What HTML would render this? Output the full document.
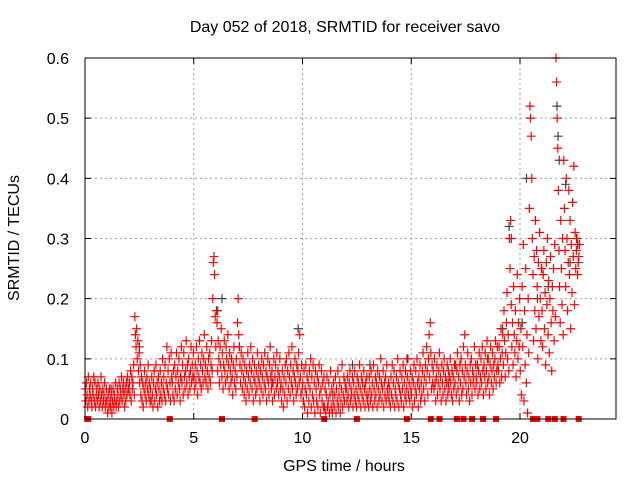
<!DOCTYPE html>
<html><head><meta charset="utf-8"><style>
body{margin:0;background:#fff}
svg text{font-family:"Liberation Sans",sans-serif;font-size:16px;fill:#000}
</style></head><body>
<svg id="chart" width="640" height="480" xmlns="http://www.w3.org/2000/svg">
<rect width="640" height="480" fill="#fff"/>
<text x="345" y="32" text-anchor="middle">Day 052 of 2018, SRMTID for receiver savo</text>
<text transform="translate(19,238) rotate(-90)" text-anchor="middle">SRMTID / TECUs</text>
<text x="344" y="471" text-anchor="middle">GPS time / hours</text>
<g id="grid"></g>
<g id="ticks"></g>
<g id="gray"></g>
<g id="red"></g>
<g id="zeros"></g>
<rect x="85" y="58" width="531" height="361" fill="none" stroke="#000" stroke-width="1"/>
</svg>
<script>
const xTicks=[0,5,10,15,20];
const yTicks=[0,0.1,0.2,0.3,0.4,0.5,0.6];
const yTickLabels=["0","0.1","0.2","0.3","0.4","0.5","0.6"];
const hourStarts=[0,1,2,3,4,5,6,7,8,9,10,11,12,13,14,15,16,17,18,19,20,21,22];
const hourSpans=[1,1,1,1,1,1,1,1,1,1,1,1,1,1,1,1,1,1,1,1,1,1,0.75];
const srmtidHundredths=[
[5,3,6,4,2,7,3,5,4,6,3,2,5,4,7,3,6,2,4,5,3,6,4,2,5,3,7,4,2,5,3,4,6,2,3,5],
[3,1,4,2,5,3,2,4,1,3,5,2,4,3,6,2,3,5,4,2,6,3,5,4,7,3,5,6,4,2,5,3,6,4,7,5],
[5,6,4,8,3,7,5,6,9,4,17,14,12,15,10,13,8,11,6,9,4,7,3,6,2,5,8,4,6,3,7,5,9,4,6,3],
[5,3,7,4,2,6,8,3,5,9,4,6,2,7,5,3,8,4,6,3,10,5,7,4,9,3,6,12,5,8,4,10,6,3,11,7],
[6,4,8,3,9,5,7,11,4,8,6,10,5,3,7,12,6,9,4,11,7,5,8,13,6,9,4,10,7,5,8,12,6,9,7,11],
[7,5,9,6,12,8,4,10,7,13,6,9,5,11,8,6,10,14,7,9,6,12,8,5,10,7,11,6,9,13,8,20,26,27,24,17],
[12,18,16,8,13,10,6,12,9,15,7,11,5,9,13,8,6,12,10,7,14,9,5,11,8,6,10,7,4,9,12,6,8,5,10,7],
[16,20,14,12,9,6,11,8,5,10,7,4,9,6,3,8,5,11,7,4,9,6,12,8,5,10,3,7,9,6,4,8,5,11,7,9],
[6,3,8,5,10,7,4,9,6,11,5,8,3,7,10,6,4,9,12,7,5,8,3,6,10,4,7,9,5,11,6,8,4,7,10,5],
[6,3,8,5,2,7,4,9,6,10,3,8,5,11,7,4,9,6,12,5,8,3,7,10,6,4,9,5,8,11,6,14,7,4,9,5],
[6,3,8,2,5,9,4,7,1,6,3,8,5,10,2,7,4,9,3,6,1,8,5,3,7,2,6,9,4,1,5,8,3,6,2,7],
[2,5,1,4,7,2,3,6,1,4,8,2,5,1,3,6,2,4,7,1,5,3,8,2,4,6,1,3,5,9,2,4,7,3,6,5],
[5,3,7,4,2,6,8,3,5,4,7,2,6,4,8,3,5,2,7,4,6,3,9,5,2,7,4,6,3,8,5,2,6,4,7,3],
[4,2,7,5,3,8,4,6,2,9,5,3,7,4,6,2,8,5,3,7,4,10,6,3,5,8,2,6,4,7,3,9,5,4,6,3],
[5,2,7,4,9,3,6,8,2,5,4,7,3,10,6,2,5,8,4,3,7,5,9,2,6,4,8,3,5,7,10,4,6,3,8,5],
[4,7,2,6,9,3,5,8,4,10,6,2,7,5,9,3,6,4,8,11,5,7,3,9,6,12,8,4,10,14,7,16,11,5,9,6],
[8,5,10,6,3,7,9,4,6,8,11,5,7,3,9,6,4,8,10,5,7,3,6,9,4,8,5,7,10,6,4,8,3,7,5,9],
[6,9,4,8,11,5,7,3,9,6,10,4,8,5,12,7,14,9,6,4,8,11,5,7,3,9,6,10,4,8,6,7,12,5,9,7],
[6,9,4,8,11,5,7,10,6,12,8,4,9,7,11,5,8,13,6,10,7,4,9,12,6,8,11,5,9,7,10,13,6,8,12,9],
[8,12,6,10,15,7,11,14,9,18,13,7,11,16,21,10,14,8,30,25,33,19,12,16,9,22,14,11,18,7,13,24,10,16,12,20],
[8,15,4,22,12,29,3,18,9,25,6,14,1,20,11,35,52,50,47,40,30,24,13,27,18,33,15,28,22,10,26,17,31,20,13,25],
[18,12,24,28,15,21,9,26,19,30,14,23,11,20,27,16,8,22,18,25,13,29,17,60,56,50,45,38,28,22,16,33,25,19,30,14],
[43,35,28,22,40,30,18,26,38,24,33,15,29,21,36,27,42,19,31,25,28,30,24,26,27,29]
];
const grayTimes=[2.5,6.1,6.3,7.1,9.8,12.3,13.1,14.8,15.8,18.5,19.2,19.5,19.6,20.1,20.3,20.8,21.0,21.3,21.7,21.75,21.8,22.1,22.3,22.6,22.65,1.2,4.4,8.6,11.4,16.7];
const grayValues=[0.12,0.18,0.2,0.12,0.15,0.09,0.09,0.1,0.1,0.1,0.15,0.32,0.3,0.16,0.4,0.2,0.25,0.22,0.52,0.47,0.43,0.39,0.26,0.3,0.29,0.05,0.07,0.06,0.04,0.06];
const zeroTimes=[0.1,0.15,3.9,6.3,7.8,11.0,12.5,14.8,15.9,16.3,17.1,17.4,17.8,18.3,18.9,20.6,20.8,21.3,21.6,22.0,22.7];
const NS="http://www.w3.org/2000/svg";
const X=h=>85+h*21.75, Y=v=>419-v*601.7;
function mk(tag,attrs,parent){const e=document.createElementNS(NS,tag);for(const k in attrs)e.setAttribute(k,attrs[k]);parent.appendChild(e);return e;}
const grid=document.getElementById('grid'),ticks=document.getElementById('ticks');
xTicks.forEach(t=>{
  if(t>0){const l=mk('line',{x1:X(t),x2:X(t),y1:58,y2:419,stroke:'#a0a0a0','stroke-dasharray':'2,3'},grid);
  
  }
  const tm=mk('path',{d:`M${X(t)},419v-6M${X(t)},58v6`,stroke:'#000'},ticks);
  
  
  const tx=mk('text',{x:X(t),y:443,'text-anchor':'middle'},ticks);tx.textContent=t;
  
  
});
yTicks.forEach((t,i)=>{
  if(t>0&&t<0.6){const l=mk('line',{x1:85,x2:616,y1:Y(t),y2:Y(t),stroke:'#a0a0a0','stroke-dasharray':'2,3'},grid);
  
  }
  const tm=mk('path',{d:`M85,${Y(t)}h6M616,${Y(t)}h-6`,stroke:'#000'},ticks);
  
  
  const tx=mk('text',{x:69,y:Y(t)+6,'text-anchor':'end'},ticks);tx.textContent=yTickLabels[i];
  
  
});
function plus(g,h,v,c){const p=mk('path',{d:`M${X(h)-4.5},${Y(v)}h9M${X(h)},${Y(v)-4.5}v9`,stroke:c,'stroke-width':1.2},g);return p;}
const gg=document.getElementById('gray');
grayTimes.forEach((h,i)=>{const p=plus(gg,h,grayValues[i],'#404040');
  
  });
const rg=document.getElementById('red');
hourStarts.forEach((hs,k)=>{const vals=srmtidHundredths[k];vals.forEach((v,i)=>{
  const h=hs+(i+0.5)/vals.length*hourSpans[k];
  const p=plus(rg,h,v/100,'#ff0000');
  
  });});
const zg=document.getElementById('zeros');
zeroTimes.forEach(h=>{const r=mk('rect',{x:X(h)-3,y:416,width:6,height:6,fill:'#ff0000'},zg);
  
  });
</script>
</body></html>
